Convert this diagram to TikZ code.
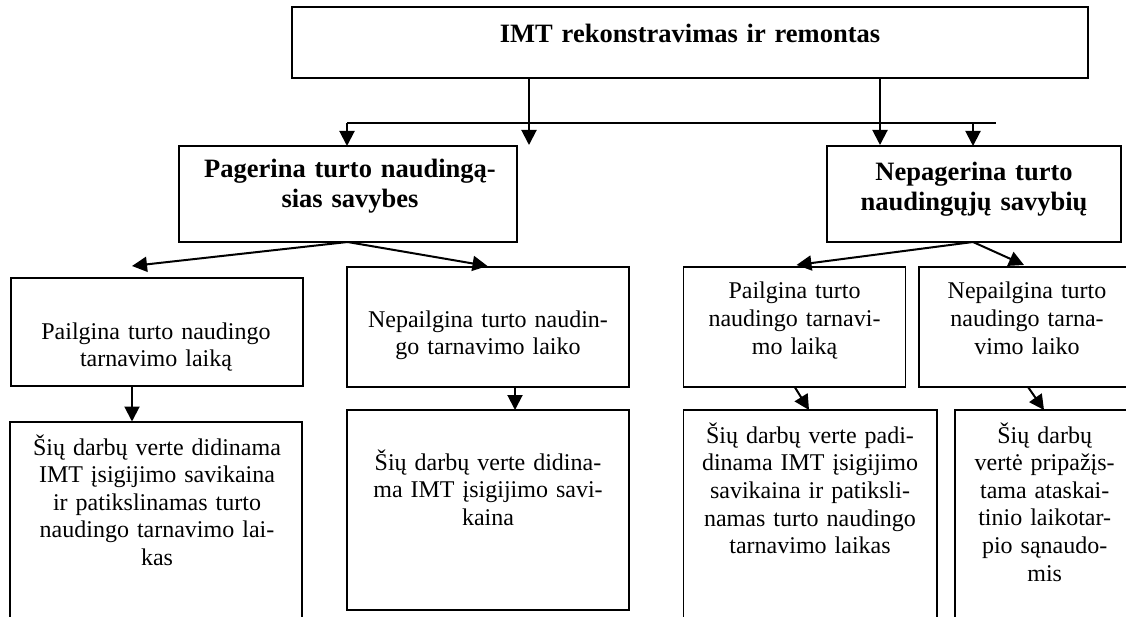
\documentclass[tikz,border=0pt]{standalone}
\usepackage{fontspec}
\setmainfont{Liberation Serif}
\usetikzlibrary{arrows.meta,calc}
\tikzset{
  box/.style={draw, line width=1.6pt, inner sep=0pt, outer sep=0pt, anchor=north west},
  txt/.style={inner sep=0pt, anchor=base, align=center, text width=340pt,
    font=\fontsize{24}{27.6}\selectfont},
  btxt/.style={inner sep=0pt, anchor=base, align=center, text width=340pt,
    font=\fontsize{26.5}{30}\selectfont\bfseries},
  arr/.style={line width=2pt, -{Triangle[length=15pt,width=15pt]}},
  ln/.style={line width=2pt}
}
\begin{document}
\begin{tikzpicture}[x=1pt,y=-1pt]
\useasboundingbox (0,0) rectangle (1126,617);
\clip (0,0) rectangle (1126,617);
% boxes
\node[box, minimum width=796pt, minimum height=71pt] (top) at (292,7) {};
\node[box, minimum width=338pt, minimum height=96pt] (pag) at (179,146) {};
\node[box, minimum width=294pt, minimum height=96pt] (nep) at (827,146) {};
\node[box, minimum width=292pt, minimum height=108pt] (b1) at (11,278) {};
\node[box, minimum width=282pt, minimum height=120pt] (b2) at (347,267) {};
\node[box, minimum width=222pt, minimum height=120pt] (b3) at (683.5,267) {};
\node[box, minimum width=220pt, minimum height=120pt] (b4) at (919,267) {};
\node[box, minimum width=292pt, minimum height=210pt] (c1) at (10,422) {};
\node[box, minimum width=282pt, minimum height=200pt] (c2) at (347,410) {};
\node[box, minimum width=253.5pt, minimum height=222pt] (c3) at (683.5,410) {};
\node[box, minimum width=184pt, minimum height=222pt] (c4) at (955,410) {};
% texts
\node[btxt, text width=700pt] (ttop) at (690,43) {IMT rekonstravimas ir remontas};
\node[btxt] (tpag) at (350,178) {Pagerina turto naudingą-\\sias savybes};
\node[btxt] (tnep) at (974,181) {Nepagerina turto\\naudingųjų savybių};
\node[txt] (tb1) at (156,339) {Pailgina turto naudingo\\tarnavimo laiką};
\node[txt] (tb2) at (488,327) {Nepailgina turto naudin-\\go tarnavimo laiko};
\node[txt] (tb3) at (794.5,299) {Pailgina turto\\naudingo tarnavi-\\mo laiką};
\node[txt] (tb4) at (1027,299) {Nepailgina turto\\naudingo tarna-\\vimo laiko};
\node[txt] (tc1) at (157,455) {Šių darbų verte didinama\\IMT įsigijimo savikaina\\ir patikslinamas turto\\naudingo tarnavimo lai-\\kas};
\node[txt] (tc2) at (488,470) {Šių darbų verte didina-\\ma IMT įsigijimo savi-\\kaina};
\node[txt] (tc3) at (810,443.3) {Šių darbų verte padi-\\dinama IMT įsigijimo\\savikaina ir patiksli-\\namas turto naudingo\\tarnavimo laikas};
\node[txt] (tc4) at (1044.7,443) {Šių darbų\\vertė pripažįs-\\tama ataskai-\\tinio laikotar-\\pio sąnaudo-\\mis};
% free ends
\coordinate (a1) at (529,145);
\coordinate (a2) at (880,145);
\coordinate (j1) at (347,122.7);
\coordinate (j2) at (996,122.7);
\coordinate (j3) at (973,122.7);
\coordinate (p1) at (132,266);
\coordinate (p2) at (487.5,266);
\coordinate (n1) at (796.5,265);
\coordinate (n2) at (1024,265);
\coordinate (s1) at (132,421.5);
\coordinate (s2) at (515,410);
\coordinate (s3) at (809,410);
\coordinate (s4) at (1044,410);
% connectors
\draw[arr] (top.south -| a1) -- (a1);
\draw[arr] (top.south -| a2) -- (a2);
\draw[ln] (j1) -- (j2);
\draw[arr] (j1) -- (j1 |- pag.north);
\draw[arr] (j3) -- (j3 |- nep.north);
\draw[arr] ($(pag.south)+(-0.5,0)$) -- (p1);
\draw[arr] ($(pag.south)+(-0.5,0)$) -- (p2);
\draw[arr] ($(nep.south)+(-1,0)$) -- (n1);
\draw[arr] ($(nep.south)+(-1,0)$) -- (n2);
\draw[arr] (b1.south -| s1) -- (s1);
\draw[arr] (b2.south -| s2) -- (s2);
\draw[arr] ($(b3.south west)+(111.2,0)$) -- (s3);
\draw[arr] ($(b4.south west)+(109,0)$) -- (s4);
\end{tikzpicture}
\end{document}
